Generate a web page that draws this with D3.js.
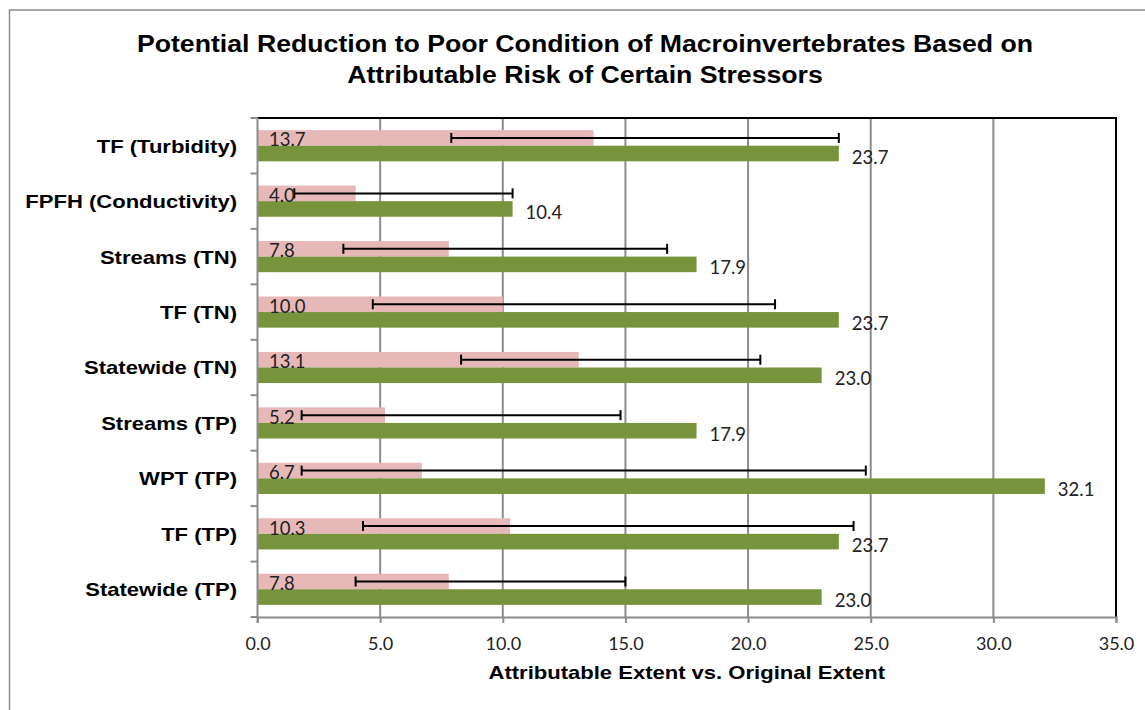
<!DOCTYPE html>
<html>
<head>
<meta charset="utf-8">
<script src="https://cdn.jsdelivr.net/npm/d3@7"></script>
<style>
  html, body { margin: 0; padding: 0; background: #fff; }
  svg { display: block; }
</style>
</head>
<body>
<svg id="chart" width="1145" height="710"></svg>
<script>
// ---- data ----
const categories = ["TF (Turbidity)", "FPFH (Conductivity)", "Streams (TN)", "TF (TN)", "Statewide (TN)",
                    "Streams (TP)", "WPT (TP)", "TF (TP)", "Statewide (TP)"];
const attributableValues = [13.7, 4.0, 7.8, 10.0, 13.1, 5.2, 6.7, 10.3, 7.8];
const originalValues = [23.7, 10.4, 17.9, 23.7, 23.0, 17.9, 32.1, 23.7, 23.0];
const errorLow = [7.9, 1.5, 3.5, 4.7, 8.3, 1.8, 1.8, 4.3, 4.0];
const errorHigh = [23.7, 10.4, 16.7, 21.1, 20.5, 14.8, 24.8, 24.3, 15.0];
const xTicks = [0, 5, 10, 15, 20, 25, 30, 35];
const titleLines = ["Potential Reduction to Poor Condition of Macroinvertebrates Based on",
                    "Attributable Risk of Certain Stressors"];
const xAxisTitle = "Attributable Extent vs. Original Extent";

// ---- layout ----
const svg = d3.select("#chart");
const plot = { left: 257.5, right: 1116, top: 118, bottom: 617 };
const pink = "#E6B9B8", green = "#77933C", gridCol = "#8C8C8C";
const numFont = "Lato, 'Open Sans', sans-serif";
const boldFont = "'Liberation Sans', Arial, sans-serif";
const stretch = 1.16; // horizontal widening of the bold label font

// outer border
svg.append("rect").attr("x", 9.5).attr("y", 10).attr("width", 1145).attr("height", 710)
  .attr("fill", "none").attr("stroke", "#8a8a8a").attr("stroke-width", 1.5);

const x = d3.scaleLinear().domain([0, 35]).range([plot.left, plot.right]);
const y = d3.scaleBand().domain(categories).range([plot.top, plot.bottom]).padding(0);
const sub = d3.scaleBand().domain(["attr", "orig"]).range([0, y.bandwidth()])
  .paddingInner(0).paddingOuter(0.78);

// gridlines
svg.append("g").selectAll("line").data(xTicks.filter(t => t > 0 && t < 35)).join("line")
  .attr("x1", d => x(d)).attr("x2", d => x(d))
  .attr("y1", plot.top).attr("y2", plot.bottom)
  .attr("stroke", gridCol).attr("stroke-width", 2);

// bars
const rows = categories.map((c, i) => ({
  c, a: attributableValues[i], o: originalValues[i], lo: errorLow[i], hi: errorHigh[i]
}));

svg.append("g").selectAll("rect").data(rows).join("rect")
  .attr("x", x(0)).attr("y", d => y(d.c) + sub("attr"))
  .attr("width", d => x(d.a) - x(0)).attr("height", sub.bandwidth())
  .attr("fill", pink);

svg.append("g").selectAll("rect").data(rows).join("rect")
  .attr("x", x(0)).attr("y", d => y(d.c) + sub("orig"))
  .attr("width", d => x(d.o) - x(0)).attr("height", sub.bandwidth())
  .attr("fill", green);

// error bars
const eb = svg.append("g").attr("stroke", "#000").attr("stroke-width", 2);
rows.forEach(d => {
  const cy = y(d.c) + sub("attr") + sub.bandwidth() / 2;
  eb.append("line").attr("x1", x(d.lo)).attr("x2", x(d.hi)).attr("y1", cy).attr("y2", cy);
  eb.append("line").attr("x1", x(d.lo)).attr("x2", x(d.lo)).attr("y1", cy - 5).attr("y2", cy + 5);
  eb.append("line").attr("x1", x(d.hi)).attr("x2", x(d.hi)).attr("y1", cy - 5).attr("y2", cy + 5);
});

// data labels
svg.append("g").selectAll("text").data(rows).join("text")
  .attr("x", x(0) + 11.5)
  .attr("y", d => y(d.c) + sub("attr") + sub.bandwidth() / 2 + 1.5)
  .attr("dominant-baseline", "central")
  .attr("font-family", numFont).attr("font-size", 18.5).attr("fill", "#222")
  .text(d => d3.format(".1f")(d.a));

svg.append("g").selectAll("text").data(rows).join("text")
  .attr("x", d => x(d.o) + 13)
  .attr("y", d => y(d.c) + sub("orig") + sub.bandwidth() / 2 + 3)
  .attr("dominant-baseline", "central")
  .attr("font-family", numFont).attr("font-size", 18.5).attr("fill", "#222")
  .text(d => d3.format(".1f")(d.o));

// top & right frame (black)
svg.append("path")
  .attr("d", `M${plot.left},${plot.top}H${plot.right}V${plot.bottom}`)
  .attr("fill", "none").attr("stroke", "#000").attr("stroke-width", 2);

// x axis
const xAxis = d3.axisBottom(x).tickValues(xTicks).tickFormat(d3.format(".1f")).tickSize(6).tickPadding(14);
const gx = svg.append("g").attr("transform", `translate(0,${plot.bottom})`).call(xAxis);
gx.select(".domain").attr("stroke", gridCol).attr("stroke-width", 2);
gx.selectAll(".tick line").attr("stroke", gridCol).attr("stroke-width", 2);
gx.selectAll("text").attr("font-family", numFont).attr("font-size", 18).attr("fill", "#222");

// y axis: line plus ticks at band boundaries
svg.append("line").attr("x1", plot.left).attr("x2", plot.left).attr("y1", plot.top).attr("y2", plot.bottom + 6)
  .attr("stroke", gridCol).attr("stroke-width", 2);
const bounds = categories.map(c => y(c)).concat([plot.bottom]);
svg.append("g").selectAll("line").data(bounds).join("line")
  .attr("x1", plot.left - 7).attr("x2", plot.left).attr("y1", d => d).attr("y2", d => d)
  .attr("stroke", gridCol).attr("stroke-width", 2);

function stretchedText(sel, px, py) {
  sel.attr("transform", (d, i) => `translate(${px(d, i)},${py(d, i)}) scale(${stretch},1)`)
     .attr("x", 0).attr("y", 0);
}

svg.append("g").selectAll("text").data(categories).join("text")
  .attr("dominant-baseline", "central").attr("text-anchor", "end")
  .attr("font-family", boldFont).attr("font-weight", "bold").attr("font-size", 19).attr("fill", "#000")
  .text(d => d)
  .call(stretchedText, () => 237, d => y(d) + y.bandwidth() / 2);

// titles
svg.append("g").selectAll("text").data(titleLines).join("text")
  .attr("text-anchor", "middle")
  .attr("font-family", boldFont).attr("font-weight", "bold").attr("font-size", 23).attr("fill", "#000")
  .text(d => d)
  .call(stretchedText, () => 585, (d, i) => 52 + i * 31);

svg.append("g").selectAll("text").data([xAxisTitle]).join("text")
  .attr("text-anchor", "middle")
  .attr("font-family", boldFont).attr("font-weight", "bold").attr("font-size", 19).attr("fill", "#000")
  .text(d => d)
  .call(stretchedText, () => (plot.left + plot.right) / 2, () => 679);
</script>
</body>
</html>
